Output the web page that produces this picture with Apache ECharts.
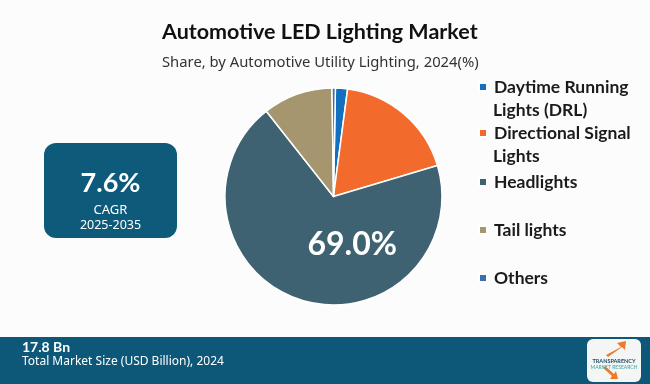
<!DOCTYPE html>
<html>
<head>
<meta charset="utf-8">
<script src="https://cdn.jsdelivr.net/npm/echarts@6/dist/echarts.min.js"></script>
<style>
html,body{margin:0;padding:0;background:#fcfcfc;}
#chart{width:650px;height:384px;}
</style>
</head>
<body>
<div id="chart"></div>
<script>
const categories = ['Daytime Running Lights (DRL)', 'Directional Signal Lights', 'Headlights', 'Tail lights', 'Others'];
const legendFirstLines = ['Daytime Running', 'Directional Signal', 'Headlights', 'Tail lights', 'Others'];
const legendSecondLines = ['Lights (DRL)', 'Lights', '', '', ''];
const shares = [1.8, 18.3, 69.0, 10.4, 0.5];
const colors = ['#1270bf', '#f36b2c', '#3f6273', '#a5966f', '#3c6db2'];
const titleText = 'Automotive LED Lighting Market';
const subtitleText = 'Share, by Automotive Utility Lighting, 2024(%)';
const cagrValue = '7.6%';
const cagrLabel = 'CAGR';
const cagrPeriod = '2025-2035';
const marketSize = '17.8 Bn';
const marketSizeLabel = 'Total Market Size (USD Billion), 2024';

const legendCenters = [87, 133, 182, 230, 278];
const legendFont = { fontFamily: 'Lato', fontWeight: 'bold', fontSize: 17.5, color: '#1b1b1b' };

const chart = echarts.init(document.getElementById('chart'));
const legends = categories.map((c, i) => ({
  data: [c],
  left: 478,
  top: legendCenters[i] - 11.5,
  padding: 0,
  icon: 'rect',
  itemWidth: 8,
  itemHeight: 8,
  selectedMode: false,
  formatter: () => legendFirstLines[i],
  textStyle: Object.assign({ lineHeight: 23, padding: [0, 0, 0, 2] }, legendFont)
}));

const secondLineGraphics = legendSecondLines.map((t, i) => t ? {
  type: 'text',
  style: { x: 493, y: legendCenters[i] + 23, text: t, fill: legendFont.color, font: 'bold 17.5px Lato', verticalAlign: 'middle' }
} : null).filter(Boolean);

chart.setOption({
  backgroundColor: '#fcfcfc',
  animation: false,
  title: {
    text: titleText,
    subtext: subtitleText,
    left: 157,
    top: 16,
    itemGap: 12,
    textStyle: { fontFamily: 'Lato', fontWeight: 'bold', fontSize: 21.5, color: '#111' },
    subtextStyle: { fontFamily: 'Noto Sans', fontSize: 14.8, color: '#333' }
  },
  legend: legends,
  series: [{
    type: 'pie',
    center: [333.5, 196.5],
    radius: [0, 108.5],
    startAngle: 89,
    clockwise: true,
    avoidLabelOverlap: false,
    itemStyle: { borderColor: '#ffffff', borderWidth: 1.5 },
    labelLine: { show: false },
    label: { show: false },
    data: categories.map((c, i) => ({
      name: c,
      value: shares[i],
      itemStyle: { color: colors[i] },
      label: i === 2 ? {
        show: true,
        position: 'inside',
        formatter: p => p.value.toFixed(1) + '%',
        fontFamily: 'Lato',
        fontWeight: 'bold',
        fontSize: 32,
        color: '#ffffff',
        offset: [36, -6]
      } : { show: false }
    }))
  }],
  graphic: secondLineGraphics.concat([
    { type: 'rect', shape: { x: 44, y: 143, width: 133, height: 95, r: 12 }, style: { fill: '#0e5a7a' } },
    { type: 'text', style: { x: 110.5, y: 183, text: cagrValue, fill: '#fff', font: 'bold 27px Lato', align: 'center', verticalAlign: 'middle' } },
    { type: 'text', style: { x: 110.5, y: 210, text: cagrLabel, fill: '#fff', font: '13px "Noto Sans"', align: 'center', verticalAlign: 'middle' } },
    { type: 'text', style: { x: 110.5, y: 225, text: cagrPeriod, fill: '#fff', font: '12.5px "Noto Sans"', align: 'center', verticalAlign: 'middle' } },
    { type: 'rect', shape: { x: 0, y: 337, width: 650, height: 47 }, style: { fill: '#0d5878' } },
    { type: 'text', style: { x: 22, y: 347, text: marketSize, fill: '#fff', font: 'bold 14px Lato', verticalAlign: 'middle' } },
    { type: 'text', style: { x: 22, y: 362, text: marketSizeLabel, fill: '#fff', font: '12px "Noto Sans"', verticalAlign: 'middle' } },
    { type: 'rect', shape: { x: 587, y: 339, width: 54, height: 43, r: 6 }, style: { fill: '#f4f6f6' } },
    { type: 'polygon', shape: { points: [[606, 355], [621, 347], [617, 343], [626, 341], [625, 350], [622, 347], [608, 357]] }, style: { fill: '#f07a2c' } },
    { type: 'polygon', shape: { points: [[603, 368], [612, 376], [610, 379], [618, 379], [616, 371], [614, 374], [605, 366]] }, style: { fill: '#f07a2c' } },
    { type: 'text', style: { x: 614, y: 361, text: 'TRANSPARENCY', fill: '#1d4a63', font: 'bold 5.5px Lato', align: 'center', verticalAlign: 'middle' } },
    { type: 'text', style: { x: 614, y: 367, text: 'MARKET RESEARCH', fill: '#3aa7a0', font: '5px Lato', align: 'center', verticalAlign: 'middle' } }
  ])
});
</script>
</body>
</html>
